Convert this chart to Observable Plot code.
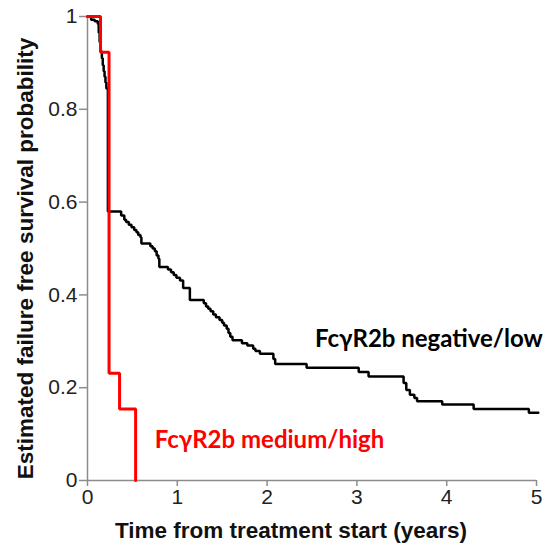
<!DOCTYPE html>
<html>
<head>
<meta charset="utf-8">
<script src="https://cdn.jsdelivr.net/npm/d3@7"></script>
<script src="https://cdn.jsdelivr.net/npm/@observablehq/plot@0.6"></script>
<style>
  html, body { margin: 0; padding: 0; background: #fff; }
</style>
</head>
<body>
<div id="chart"></div>
<script>
// FcγR2b negative/low group (black)
const negTime = [0, 0.04, 0.08, 0.115, 0.125, 0.135, 0.145, 0.16, 0.17, 0.18, 0.19, 0.2, 0.21, 0.227,
  0.375, 0.41, 0.43, 0.46, 0.49, 0.52, 0.545, 0.565, 0.59, 0.60,
  0.70, 0.725, 0.75, 0.77, 0.79, 0.80,
  0.896, 0.93, 0.96, 0.99, 1.03, 1.065, 1.14,
  1.295, 1.32, 1.345, 1.37, 1.40, 1.43, 1.47, 1.50, 1.52, 1.55, 1.57, 1.59, 1.615,
  1.72, 1.78, 1.845, 1.87, 1.92, 2.07, 2.09, 2.44, 3.02, 3.13,
  3.52, 3.55, 3.59, 3.64, 3.67, 3.95, 4.30, 4.915, 5.02];
const negSurv = [1, 0.993, 0.99, 0.984, 0.965, 0.945, 0.925, 0.91, 0.895, 0.882, 0.87, 0.858, 0.845, 0.58,
  0.571, 0.562, 0.557, 0.551, 0.546, 0.540, 0.535, 0.529, 0.524, 0.511,
  0.505, 0.500, 0.494, 0.485, 0.478, 0.460,
  0.455, 0.449, 0.443, 0.437, 0.431, 0.415, 0.389,
  0.382, 0.375, 0.370, 0.365, 0.358, 0.352, 0.346, 0.340, 0.334, 0.327, 0.318, 0.310, 0.302,
  0.296, 0.291, 0.284, 0.279, 0.273, 0.262, 0.251, 0.243, 0.234, 0.224,
  0.210, 0.195, 0.185, 0.178, 0.171, 0.164, 0.154, 0.146, 0.146];

// FcγR2b medium/high group (red)
const posTime = [0, 0.145, 0.24, 0.357, 0.536];
const posSurv = [1, 0.923, 0.231, 0.154, 0];

const xTicks = [0, 1, 2, 3, 4, 5];
const yTicks = [0, 0.2, 0.4, 0.6, 0.8, 1];
const xTitle = "Time from treatment start (years)";
const yTitle = "Estimated failure free survival probability";
const negLabel = "FcγR2b negative/low";
const posLabel = "FcγR2b medium/high";

const neg = negTime.map((t, i) => ({t, s: negSurv[i]}));
const pos = posTime.map((t, i) => ({t, s: posSurv[i]}));

const axisColor = "#8c8c8c";
const tickFont = "Liberation Sans, Arial, sans-serif";
const labelFont = "Lato, Open Sans, sans-serif";

const chart = Plot.plot({
  width: 549,
  height: 544,
  marginLeft: 87,
  marginRight: 13,
  marginTop: 16,
  marginBottom: 64,
  style: {background: "#fff", color: "#222"},
  x: {domain: [0, 5]},
  y: {domain: [0, 1]},
  marks: [
    Plot.ruleY([0], {stroke: axisColor, strokeWidth: 1.5}),
    Plot.ruleX([0], {stroke: axisColor, strokeWidth: 1.5}),
    Plot.axisX(xTicks, {tickSize: 6, stroke: axisColor, strokeWidth: 1.5, fill: "#222",
      fontSize: 21, fontFamily: tickFont, tickPadding: 3, label: null, tickFormat: d3.format("~g")}),
    Plot.axisY(yTicks, {tickSize: 8, stroke: axisColor, strokeWidth: 1.5, fill: "#222",
      fontSize: 21, fontFamily: tickFont, tickPadding: 2, label: null, tickFormat: d3.format("~g")}),
    Plot.text([xTitle], {frameAnchor: "bottom", lineAnchor: "middle", dx: -21, dy: 50, fontSize: 22.5, fontWeight: "bold",
      fontFamily: tickFont, fill: "#111"}),
    Plot.text([yTitle], {frameAnchor: "left", textAnchor: "middle", lineAnchor: "middle", dx: -62, dy: 10,
      rotate: -90, fontSize: 22.5, fontWeight: "bold", fontFamily: tickFont, fill: "#111"}),
    Plot.line(neg, {x: "t", y: "s", curve: "step-after", stroke: "#000", strokeWidth: 2.5, strokeLinejoin: "miter"}),
    Plot.line(pos, {x: "t", y: "s", curve: "step-after", stroke: "#ff0000", strokeWidth: 3, strokeLinejoin: "miter"}),
    Plot.text([negLabel], {x: 2.533, y: 0.304, textAnchor: "start", fontSize: 24, fontWeight: "bold",
      fontFamily: labelFont, fill: "#000"}),
    Plot.text([posLabel], {x: 0.748, y: 0.086, textAnchor: "start", fontSize: 24, fontWeight: "bold",
      fontFamily: labelFont, fill: "#ff0000"})
  ]
});
document.getElementById("chart").appendChild(chart);
</script>
</body>
</html>
